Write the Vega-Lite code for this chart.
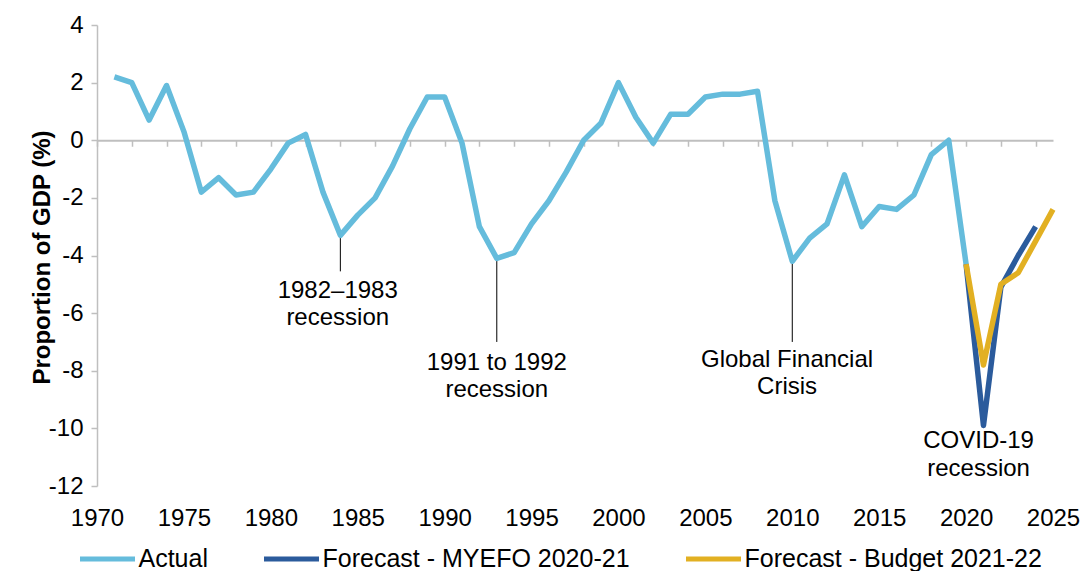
{
  "$schema": "https://vega.github.io/schema/vega-lite/v6.json",
  "width": 956,
  "height": 461,
  "autosize": {"type": "none"},
  "padding": {"left": 97, "top": 25, "right": 29, "bottom": 85},
  "background": "white",
  "config": {
    "view": {"stroke": null},
    "font": "Liberation Sans"
  },
  "datasets": {
    "series": [
      {"year": 1971, "value": 2.2, "series": "Actual"},
      {"year": 1972, "value": 2.0, "series": "Actual"},
      {"year": 1973, "value": 0.7, "series": "Actual"},
      {"year": 1974, "value": 1.9, "series": "Actual"},
      {"year": 1975, "value": 0.3, "series": "Actual"},
      {"year": 1976, "value": -1.8, "series": "Actual"},
      {"year": 1977, "value": -1.3, "series": "Actual"},
      {"year": 1978, "value": -1.9, "series": "Actual"},
      {"year": 1979, "value": -1.8, "series": "Actual"},
      {"year": 1980, "value": -1.0, "series": "Actual"},
      {"year": 1981, "value": -0.1, "series": "Actual"},
      {"year": 1982, "value": 0.2, "series": "Actual"},
      {"year": 1983, "value": -1.8, "series": "Actual"},
      {"year": 1984, "value": -3.3, "series": "Actual"},
      {"year": 1985, "value": -2.6, "series": "Actual"},
      {"year": 1986, "value": -2.0, "series": "Actual"},
      {"year": 1987, "value": -0.9, "series": "Actual"},
      {"year": 1988, "value": 0.4, "series": "Actual"},
      {"year": 1989, "value": 1.5, "series": "Actual"},
      {"year": 1990, "value": 1.5, "series": "Actual"},
      {"year": 1991, "value": -0.1, "series": "Actual"},
      {"year": 1992, "value": -3.0, "series": "Actual"},
      {"year": 1993, "value": -4.1, "series": "Actual"},
      {"year": 1994, "value": -3.9, "series": "Actual"},
      {"year": 1995, "value": -2.9, "series": "Actual"},
      {"year": 1996, "value": -2.1, "series": "Actual"},
      {"year": 1997, "value": -1.1, "series": "Actual"},
      {"year": 1998, "value": 0.0, "series": "Actual"},
      {"year": 1999, "value": 0.6, "series": "Actual"},
      {"year": 2000, "value": 2.0, "series": "Actual"},
      {"year": 2001, "value": 0.8, "series": "Actual"},
      {"year": 2002, "value": -0.1, "series": "Actual"},
      {"year": 2003, "value": 0.9, "series": "Actual"},
      {"year": 2004, "value": 0.9, "series": "Actual"},
      {"year": 2005, "value": 1.5, "series": "Actual"},
      {"year": 2006, "value": 1.6, "series": "Actual"},
      {"year": 2007, "value": 1.6, "series": "Actual"},
      {"year": 2008, "value": 1.7, "series": "Actual"},
      {"year": 2009, "value": -2.1, "series": "Actual"},
      {"year": 2010, "value": -4.2, "series": "Actual"},
      {"year": 2011, "value": -3.4, "series": "Actual"},
      {"year": 2012, "value": -2.9, "series": "Actual"},
      {"year": 2013, "value": -1.2, "series": "Actual"},
      {"year": 2014, "value": -3.0, "series": "Actual"},
      {"year": 2015, "value": -2.3, "series": "Actual"},
      {"year": 2016, "value": -2.4, "series": "Actual"},
      {"year": 2017, "value": -1.9, "series": "Actual"},
      {"year": 2018, "value": -0.5, "series": "Actual"},
      {"year": 2019, "value": 0.0, "series": "Actual"},
      {"year": 2020, "value": -4.3, "series": "Actual"},
      {"year": 2020, "value": -4.3, "series": "Forecast - MYEFO 2020-21"},
      {"year": 2021, "value": -9.9, "series": "Forecast - MYEFO 2020-21"},
      {"year": 2022, "value": -5.1, "series": "Forecast - MYEFO 2020-21"},
      {"year": 2023, "value": -4.0, "series": "Forecast - MYEFO 2020-21"},
      {"year": 2024, "value": -3.0, "series": "Forecast - MYEFO 2020-21"},
      {"year": 2020, "value": -4.3, "series": "Forecast - Budget 2021-22"},
      {"year": 2021, "value": -7.8, "series": "Forecast - Budget 2021-22"},
      {"year": 2022, "value": -5.0, "series": "Forecast - Budget 2021-22"},
      {"year": 2023, "value": -4.6, "series": "Forecast - Budget 2021-22"},
      {"year": 2024, "value": -3.5, "series": "Forecast - Budget 2021-22"},
      {"year": 2025, "value": -2.4, "series": "Forecast - Budget 2021-22"}
    ],
    "leaders": [
      {"year": 1984, "top": -3.3, "bottom": -4.55},
      {"year": 1993, "top": -4.1, "bottom": -7.0},
      {"year": 2010, "top": -4.2, "bottom": -7.0}
    ],
    "notes": [
      {"x": 1983.85, "y": -5.475, "label": "1982–1983\nrecession"},
      {"x": 1993.0, "y": -7.97, "label": "1991 to 1992\nrecession"},
      {"x": 2009.7, "y": -7.86, "label": "Global Financial\nCrisis"},
      {"x": 2020.72, "y": -10.69, "label": "COVID-19\nrecession"}
    ]
  },
  "resolve": {"axis": {"x": "independent"}},
  "layer": [
    {
      "data": {"name": "leaders"},
      "mark": {"type": "rule", "color": "#000000", "strokeWidth": 1},
      "encoding": {
        "x": {
          "field": "year",
          "type": "quantitative",
          "scale": {"domain": [1970, 2025], "nice": false, "zero": false},
          "axis": {
            "title": null,
            "orient": "bottom",
            "offset": -345.75,
            "values": [1970,1972,1974,1976,1978,1980,1982,1984,1986,1988,1990,1992,1994,1996,1998,2000,2002,2004,2006,2008,2010,2012,2014,2016,2018,2020,2022,2024],
            "labels": false,
            "grid": false,
            "domain": true,
            "domainColor": "#BFBFBF",
            "domainWidth": 2,
            "ticks": true,
            "tickSize": 6,
            "tickWidth": 1.5,
            "tickColor": "#BFBFBF",
            "zindex": 0
          }
        },
        "y": {
          "field": "top",
          "type": "quantitative",
          "scale": {"domain": [-12, 4], "nice": false, "zero": false},
          "axis": {
            "title": "Proportion of GDP (%)",
            "titleFont": "Liberation Sans",
            "titleFontSize": 24,
            "titleFontWeight": "bold",
            "titleColor": "#000000",
            "titleAngle": 270,
            "titleBaseline": "middle",
            "titleAlign": "center",
            "titleX": -55,
            "titleY": 232,
            "values": [-12, -10, -8, -6, -4, -2, 0, 2, 4],
            "labelExpr": "datum.value < 0 ? '-' + abs(datum.value) : '' + datum.value",
            "grid": false,
            "domainColor": "#BFBFBF",
            "domainWidth": 1.5,
            "tickColor": "#BFBFBF",
            "tickWidth": 1.5,
            "tickSize": 6,
            "labelPadding": 8,
            "labelFontSize": 24,
            "labelFont": "Liberation Sans",
            "labelColor": "#000000",
            "labelFlush": false
          }
        },
        "y2": {"field": "bottom"}
      }
    },
    {
      "data": {"name": "series"},
      "mark": {"type": "line", "strokeWidth": 5.5, "strokeJoin": "round"},
      "encoding": {
        "x": {
          "field": "year",
          "type": "quantitative",
          "axis": {
            "title": null,
            "orient": "bottom",
            "values": [1970, 1975, 1980, 1985, 1990, 1995, 2000, 2005, 2010, 2015, 2020, 2025],
            "format": "d",
            "grid": false,
            "domain": false,
            "ticks": false,
            "labelPadding": 39,
            "labelBaseline": "alphabetic",
            "labelFontSize": 24,
            "labelColor": "#000000",
            "labelFont": "Liberation Sans",
            "labelFlush": false,
            "labelOverlap": false,
            "labelBound": false
          }
        },
        "y": {"field": "value", "type": "quantitative"},
        "color": {
          "field": "series",
          "type": "nominal",
          "sort": ["Actual", "Forecast - MYEFO 2020-21", "Forecast - Budget 2021-22"],
          "scale": {
            "domain": ["Actual", "Forecast - MYEFO 2020-21", "Forecast - Budget 2021-22"],
            "range": ["#65BCDC", "#2B5B9C", "#E2B022"]
          },
          "legend": {
            "title": null,
            "orient": "none",
            "direction": "horizontal",
            "legendX": -19.5,
            "legendY": 504,
            "symbolType": "stroke",
            "symbolSize": 3025,
            "symbolStrokeWidth": 5,
            "labelFont": "Liberation Sans",
            "labelFontSize": 25,
            "labelColor": "#000000",
            "labelOffset": 1,
            "labelLimit": 400,
            "columnPadding": 45,
            "padding": 0
          }
        }
      }
    },
    {
      "data": {"name": "notes"},
      "mark": {
        "type": "text",
        "font": "Liberation Sans",
        "fontSize": 24,
        "color": "#000000",
        "align": "center",
        "baseline": "alphabetic",
        "lineBreak": "\n",
        "lineHeight": 27.5
      },
      "encoding": {
        "x": {"field": "x", "type": "quantitative", "axis": null},
        "y": {"field": "y", "type": "quantitative"},
        "text": {"field": "label"}
      }
    }
  ]
}
